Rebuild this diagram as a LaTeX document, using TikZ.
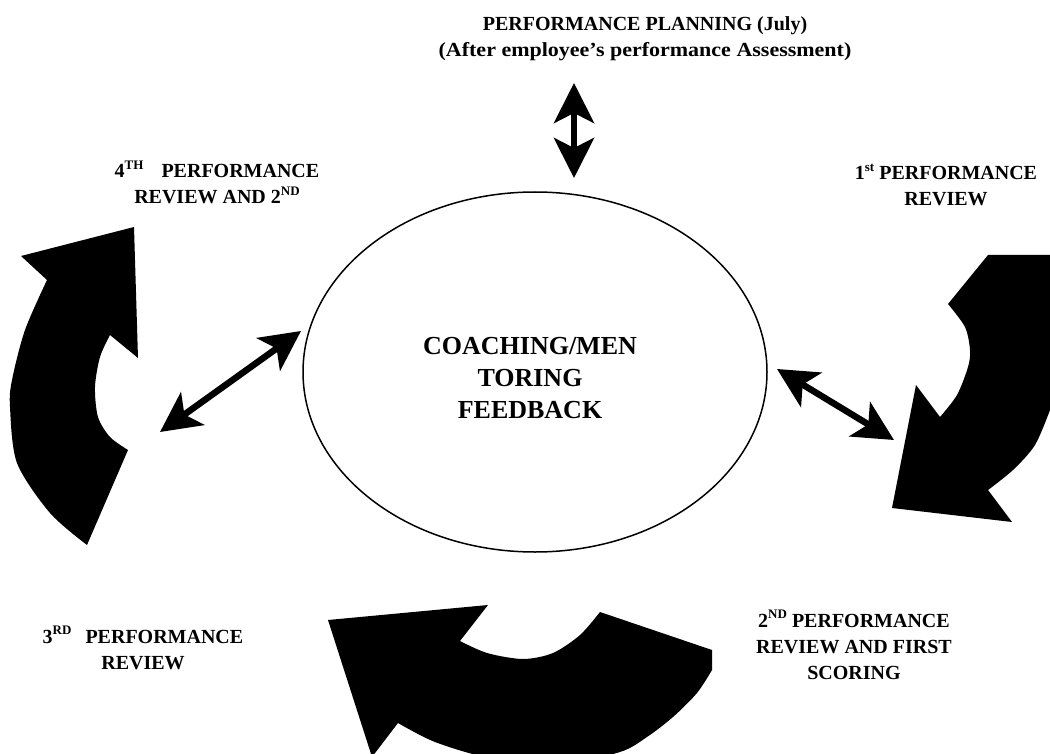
\documentclass[tikz,border=0pt]{standalone}
\usepackage{fontspec}
\setmainfont{Liberation Serif}
\newfontfamily\widefont{Liberation Serif}[FakeStretch=1.1]
\usetikzlibrary{arrows.meta,shapes.geometric}
\newcommand\supr[1]{\raisebox{0.42em}{\fontsize{13}{13}\selectfont #1}}
\tikzset{
  blob/.style={fill=black, draw=none},
  dbl/.style={line width=6.5pt,
    {Stealth[length=40pt,width=40pt,inset=10pt]}-{Stealth[length=40pt,width=40pt,inset=10pt]}},
  lbl/.style={font=\bfseries\fontsize{20}{26}\selectfont, align=center, anchor=base, inner sep=0pt},
  hubtxt/.style={font=\bfseries\fontsize{26}{32}\selectfont, align=center, inner sep=0pt},
  hubshape/.style={draw, ellipse, line width=1.5pt, minimum width=464pt, minimum height=360pt, inner sep=0pt}
}
\begin{document}
\begin{tikzpicture}[x=1pt,y=-1pt]
\useasboundingbox (0,0) rectangle (1050,754);
\clip (0,0) rectangle (1050,754);
\fill[white] (0,0) rectangle (1050,754);

% central ellipse
\node[hubshape] (hub) at (535,372) {};
\node[hubtxt] (hubtext) at (530,378) {COACHING/MEN\\TORING\\FEEDBACK};

% labels (anchor base = baseline of last line)
\node[lbl] (plan) at (645,57) {PERFORMANCE PLANNING (July)\\{\widefont\bfseries (After employee’s performance Assessment)}};
\node[lbl] (fourth) at (217,204) {4\supr{TH}\hspace{18pt}PERFORMANCE\\REVIEW AND 2\supr{ND}};
\node[lbl] (first) at (946,206) {1\supr{st} PERFORMANCE\\REVIEW};
\node[lbl] (third) at (143,669) {3\supr{RD}\hspace{14pt}PERFORMANCE\\REVIEW};
\node[lbl] (second) at (854,679) {2\supr{ND} PERFORMANCE\\REVIEW AND FIRST\\SCORING};

% big curved arrows
\fill[blob] (134,227) -- (21,256) -- (47,280)
  -- plot[smooth] coordinates {(47,280) (25,330) (12,380) (10,407) (17,463) (50,513) (87,545)}
  -- (128,450)
  -- plot[smooth] coordinates {(128,450) (110,437) (98,417) (95,387) (100,357) (110,335)}
  -- (138,358) -- cycle;

\fill[blob] (948,304) -- (988,255) -- (1050,255) -- (1050,410)
  -- plot[smooth] coordinates {(1050,410) (1035,445) (1013,470) (988,490)}
  -- (1012,522) -- (892,508) -- (916,385) -- (940,417)
  -- plot[smooth] coordinates {(940,417) (957,395) (968,367) (970,350) (965,327) (948,304)}
  -- cycle;

\fill[blob] (328,620) -- (488,605) -- (460,641)
  -- plot[smooth] coordinates {(460,641) (487,653) (523,659) (553,653) (580,635) (600,612)}
  -- (712,650) -- (712,670)
  -- plot[smooth] coordinates {(712,670) (697,693) (673,717) (647,737) (620,752) (560,764) (490,758) (435,742) (398,723)}
  -- (372,757) -- cycle;

% double-headed connectors
\coordinate (topA) at (574,83);
\coordinate (topB) at (574,178);
\coordinate (leftA) at (160,432);
\coordinate (leftB) at (301,331);
\coordinate (rightA) at (777,369);
\coordinate (rightB) at (894,440);
\draw[dbl] (topA) -- (topB);
\draw[dbl] (leftA) -- (leftB);
\draw[dbl] (rightA) -- (rightB);
\end{tikzpicture}
\end{document}
